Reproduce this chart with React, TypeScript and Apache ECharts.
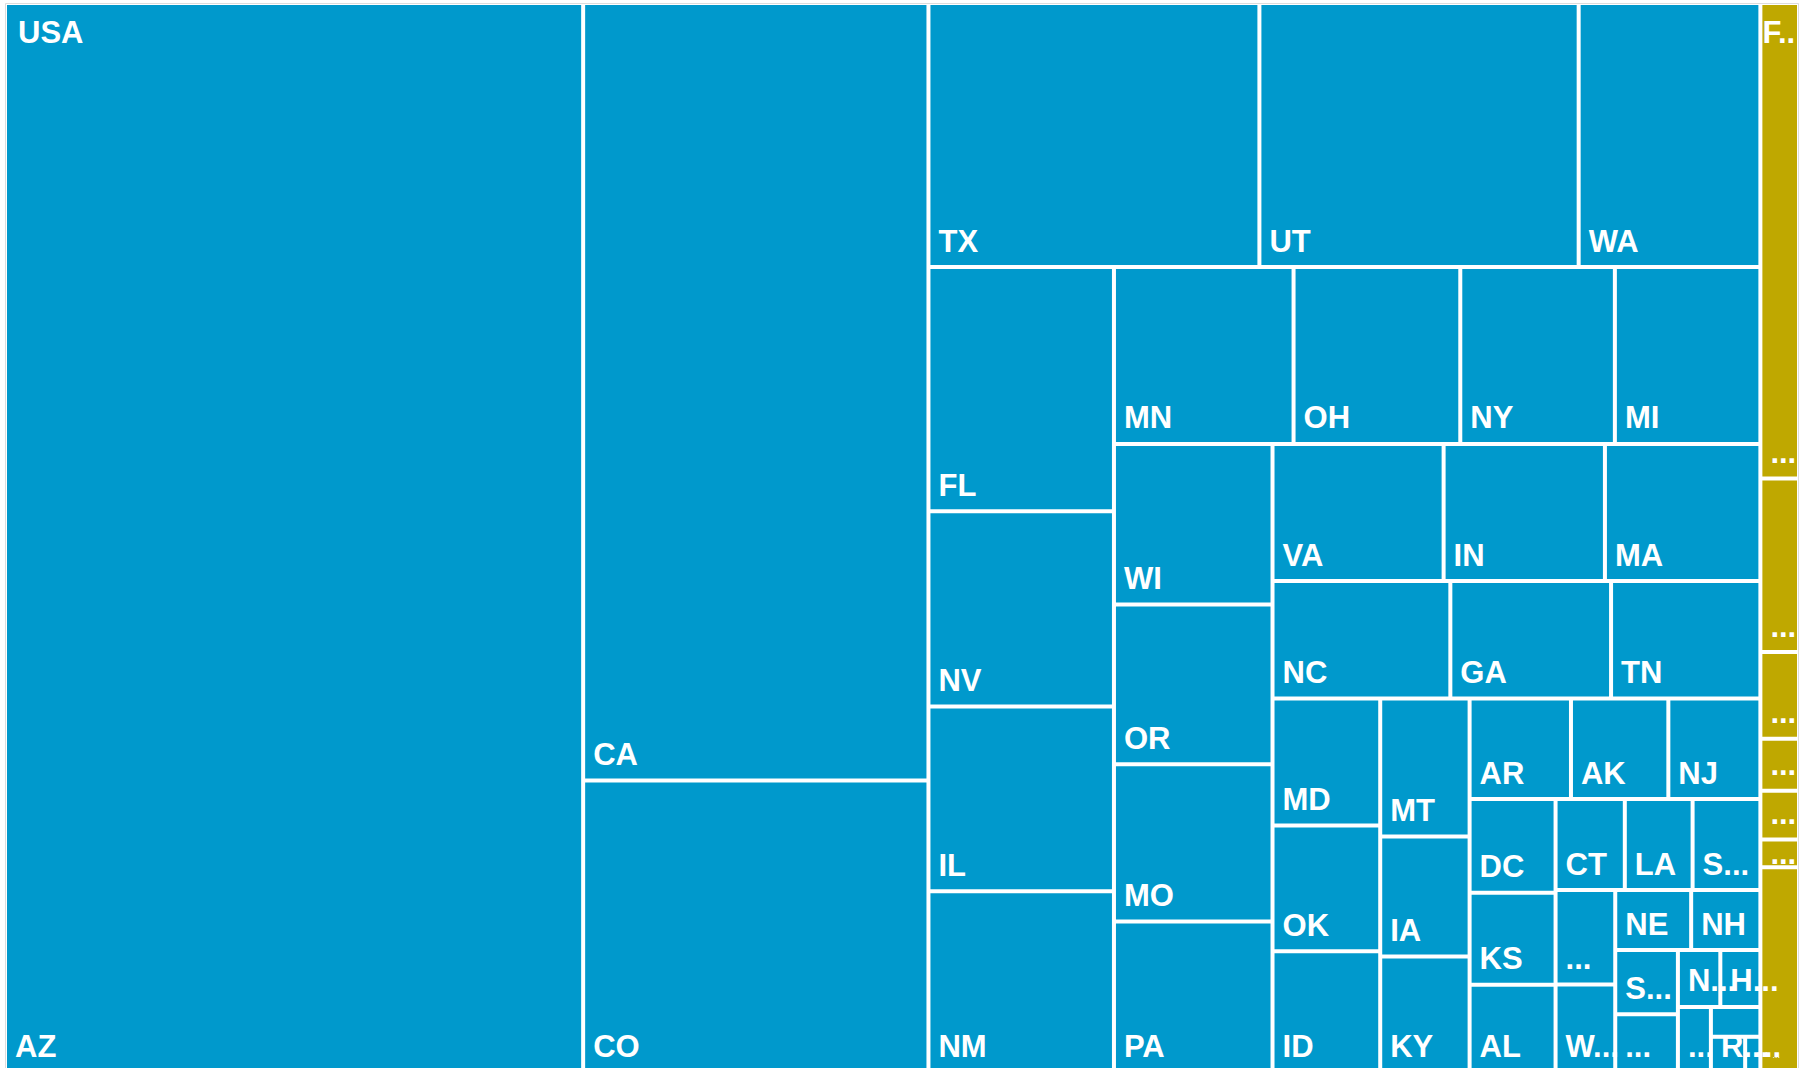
import { useEffect, useRef } from 'react';
import * as echarts from 'echarts';

// Top-level groups
const groupNames = ['USA', 'F..'];
const groupColors = ['#0099cc', '#bfa800'];

// USA children (labels as displayed) and their values
const usaStates = [
  'AZ', 'CA', 'CO', 'TX', 'UT', 'WA', 'FL', 'NV', 'IL', 'NM',
  'MN', 'OH', 'NY', 'MI', 'WI', 'OR', 'MO', 'PA', 'VA', 'IN',
  'MA', 'NC', 'GA', 'TN', 'MD', 'OK', 'ID', 'MT', 'IA', 'KY',
  'AR', 'AK', 'NJ', 'DC', 'KS', 'AL', 'CT', 'LA', 'S...', '...',
  'W...', 'NE', 'NH', 'S...', '...', 'N...', 'H...', '...', 'D', 'R...',
  '...',
];
const usaValues = [
  4611, 2003, 751, 652, 629, 358, 338, 270, 256, 250,
  237, 220, 204, 192, 190, 189, 186, 178, 175, 165,
  159, 156, 141, 131, 102, 101, 97, 92, 80, 77,
  76, 73, 69, 60, 59, 56, 47, 46, 46, 42,
  39, 34, 31, 30, 27, 18, 17, 16, 11, 9,
  4,
];

// Second group children
const fNames = ['...', '...', '...', '...', '...', '...', '...'];
const fValues = [137, 50, 25, 15, 14, 8, 59];

const FONT = "'Liberation Sans', Arial, sans-serif";
const CLEAR = 'rgba(0,0,0,0)';

export default function App() {
  const ref = useRef<HTMLDivElement>(null);

  useEffect(() => {
    if (!ref.current) return;
    const chart = echarts.init(ref.current, undefined, { renderer: 'svg' });

    const leafLabel = {
      show: true,
      position: 'insideBottomLeft',
      distance: 0,
      padding: [0, 0, 22, 8],
      color: '#ffffff',
      fontFamily: FONT,
      fontWeight: 'bold',
      fontSize: 31,
      lineHeight: 4,
      overflow: 'none',
    };

    const usaChildren = usaStates.map((n, i) => ({
      name: n,
      value: usaValues[i],
      itemStyle: { color: groupColors[0] },
    }));
    const fChildren = fNames.map((n, i) => {
      const item: any = { name: n, value: fValues[i], itemStyle: { color: groupColors[1] } };
      if (i === fNames.length - 2) item.label = { padding: [0, 0, 10, 8] };
      if (i === fNames.length - 1) item.label = { fontSize: 9, fontWeight: 'normal', padding: [0, 0, 13, 10] };
      return item;
    });
    const usaTotal = usaValues.reduce((a, b) => a + b, 0);
    const fTotal = fValues.reduce((a, b) => a + b, 0);

    const box = { left: 7, top: 5, width: 1790, height: 1065 };

    chart.setOption({
      animation: false,
      graphic: [
        {
          type: 'rect',
          silent: true,
          z: 0,
          shape: { x: 5.5, y: 3.5, width: 1793, height: 1080 },
          style: { fill: 'none', stroke: '#dcdcdc', lineWidth: 1 },
        },
      ],
      series: [
        {
          type: 'treemap',
          ...box,
          roam: false,
          nodeClick: false,
          sort: false,
          squareRatio: 0.9,
          color: groupColors,
          breadcrumb: { show: false },
          itemStyle: { borderWidth: 0, gapWidth: 4, borderColor: '#ffffff' },
          label: leafLabel,
          upperLabel: { show: false },
          data: [
            { name: groupNames[0], value: usaTotal, itemStyle: { color: groupColors[0] }, children: usaChildren },
            { name: groupNames[1], value: fTotal, itemStyle: { color: groupColors[1] }, children: fChildren },
          ],
        },
        {
          type: 'treemap',
          ...box,
          z: 5,
          silent: true,
          roam: false,
          nodeClick: false,
          sort: false,
          squareRatio: 0.9,
          color: [CLEAR, CLEAR],
          breadcrumb: { show: false },
          itemStyle: { borderWidth: 0, gapWidth: 4, color: CLEAR, borderColor: CLEAR },
          label: {
            show: true,
            position: 'insideTopLeft',
            distance: 0,
            padding: [25, 0, 0, 11],
            color: '#ffffff',
            fontFamily: FONT,
            fontWeight: 'bold',
            fontSize: 31,
            lineHeight: 4,
            overflow: 'none',
          },
          data: [
            { name: groupNames[0], value: usaTotal, itemStyle: { color: CLEAR, borderColor: CLEAR } },
            { name: groupNames[1], value: fTotal, itemStyle: { color: CLEAR, borderColor: CLEAR }, label: { padding: [25, 0, 0, 0] } },
          ],
        },
      ],
    });

    return () => chart.dispose();
  }, []);

  return (
    <div
      ref={ref}
      style={{ position: 'absolute', left: 0, top: 0, width: 1804, height: 1068, background: '#ffffff' }}
    />
  );
}
